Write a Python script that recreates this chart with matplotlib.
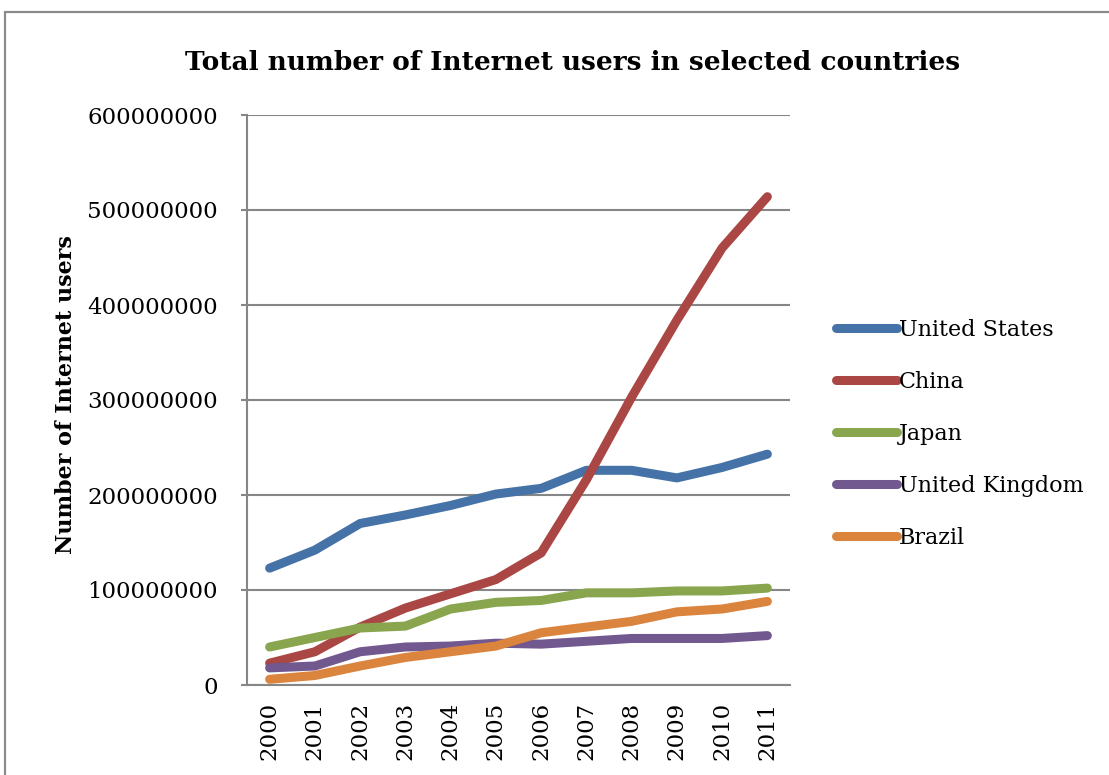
import matplotlib.pyplot as plt
from matplotlib.patches import Rectangle

years = ['2000', '2001', '2002', '2003', '2004', '2005',
         '2006', '2007', '2008', '2009', '2010', '2011']

united_states = [123e6, 142e6, 170e6, 179e6, 189e6, 201e6, 207e6, 226e6, 226e6, 218e6, 229e6, 243e6]
china = [23e6, 35e6, 61e6, 81e6, 96e6, 111e6, 139e6, 216e6, 303e6, 384e6, 460e6, 514e6]
japan = [40e6, 50e6, 60e6, 62e6, 80e6, 87e6, 89e6, 97e6, 97e6, 99e6, 99e6, 102e6]
united_kingdom = [18e6, 20e6, 35e6, 40e6, 41e6, 44e6, 43e6, 46e6, 49e6, 49e6, 49e6, 52e6]
brazil = [6e6, 10e6, 20e6, 29e6, 35e6, 41e6, 55e6, 61e6, 67e6, 77e6, 80e6, 88e6]

series = [
    ('United States', united_states, '#4572A7'),
    ('China', china, '#AA4643'),
    ('Japan', japan, '#89A54E'),
    ('United Kingdom', united_kingdom, '#71588F'),
    ('Brazil', brazil, '#DB843D'),
]

plt.rcParams['font.family'] = 'DejaVu Serif'
grey = '#868686'

fig = plt.figure(figsize=(11.09, 7.75), dpi=100)
W, H = 1109, 775
ax = fig.add_axes([247 / W, 1 - 685 / H, 543 / W, 570 / H])

# outer chart frame, cut off at the right and bottom edges
fig.patches.append(Rectangle((5 / W, -0.1), 1.2, 1 - 12 / H + 0.1, transform=fig.transFigure,
                             fill=False, edgecolor='#8a8a8a', linewidth=1.6))

x = range(len(years))
for name, values, color in series:
    ax.plot(x, values, color=color, linewidth=6.5, solid_capstyle='round',
            solid_joinstyle='round', label=name)

ax.set_xlim(-0.5, len(years) - 0.5)
ax.set_ylim(0, 600e6)
ax.set_yticks(range(0, 600000001, 100000000))
ax.set_yticklabels([str(v) for v in range(0, 600000001, 100000000)], fontsize=16.5)
ax.set_xticks(list(x))
ax.set_xticklabels(years, rotation=90, fontsize=16.5)

ax.grid(axis='y', color=grey, linewidth=1.5)
ax.set_axisbelow(True)
for side in ['top', 'right']:
    ax.spines[side].set_visible(False)
for side in ['left', 'bottom']:
    ax.spines[side].set_color(grey)
    ax.spines[side].set_linewidth(1.5)
ax.tick_params(axis='y', length=4, width=1.5, color=grey, pad=17)
ax.tick_params(axis='x', length=0, pad=12)

ax.set_ylabel('Number of Internet users', fontsize=16, fontweight='bold')
ax.yaxis.set_label_coords(-0.313, 0.51)
fig.text(573 / W, 1 - 62 / H, 'Total number of Internet users in selected countries',
         ha='center', va='center', fontsize=19, fontweight='bold')

fig.legend(loc='upper left', bbox_to_anchor=(827 / W, 1 - 310 / H), frameon=False,
           fontsize=16, handlelength=2.75, handletextpad=0.1, labelspacing=1.35,
           borderaxespad=0)

fig.savefig('out.png', dpi=100)
